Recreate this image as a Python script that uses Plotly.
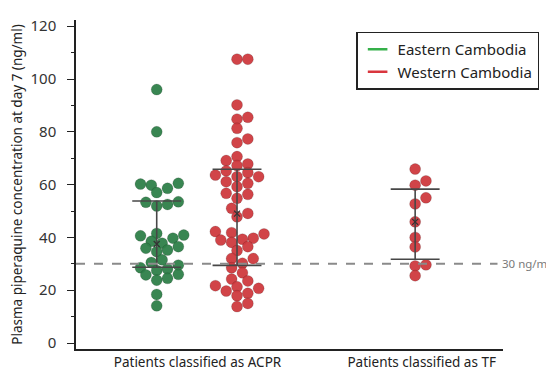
import plotly.graph_objects as go

# ---- data (ng/ml) ----
east_acpr = [96, 80, 60.5, 60.2, 59.8, 58.6, 57, 53.5, 53.3, 52.5, 51.9,
             41.5, 40.9, 40.6, 39.7, 38.5, 37.8, 36.5, 35.9, 35.2, 34.6,
             31.5, 30.5, 29.5, 28.5, 28, 27.5, 26, 25.8, 24.5, 23.8, 18.4, 14.1]
west_acpr = [107.5, 107.5, 90.2, 85.5, 84.8, 81.3, 77.3, 75.9, 70.6, 69.1,
             67.8, 67.2, 65.2, 64.5, 63.6, 63, 63, 61.1, 60.5, 59.2, 56.7,
             56.3, 54.8, 51, 49.1, 47.8, 42.2, 41.8, 41.3, 39.7, 39.3, 39,
             38.1, 36.5, 35, 32, 32, 30.2, 28.5, 26.6, 24.2, 23.5, 21.7,
             21.3, 20.7, 19.7, 18.8, 17.9, 15, 13.8]
west_tf = [65.9, 61.4, 59.8, 55, 52.7, 45.9, 40, 36.4, 29.6, 29.2, 25.5]

group_x = [0.99, 1.975, 4.16]
bar_upper = [53.8, 65.8, 58.3]
bar_median = [37.5, 49.0, 45.9]
bar_lower = [28.7, 29.4, 31.7]

category_labels = ["Patients classified as ACPR", "Patients classified as TF"]
category_pos = [1.49, 4.24]
threshold = 30
threshold_label = "30 ng/ml"
legend_names = ["Eastern Cambodia", "Western Cambodia"]

GREEN = "#2f8049"
RED = "#cf3a3f"
GREEN_LEG = "#35b04a"
RED_LEG = "#d9363e"

Y_RANGE = [-2.27, 122.35]
X_RANGE = [0, 5.2375]
PLOT_W = 419
PLOT_H = 329
ypx = PLOT_H / (Y_RANGE[1] - Y_RANGE[0])
xpx = PLOT_W / (X_RANGE[1] - X_RANGE[0])
DIA = 10.6


def swarm(values, tight=0.8):
    placed = []
    res = [0.0] * len(values)
    order = sorted(range(len(values)), key=lambda i: values[i])
    cands = [0.0]
    for k in range(1, 14):
        cands += [k * DIA / 2, -k * DIA / 2]
    for i in order:
        y = values[i] * ypx
        chosen = cands[-1]
        for c in cands:
            if all((c - px) ** 2 + (y - py) ** 2 >= (DIA * tight) ** 2 for px, py in placed):
                chosen = c
                break
        placed.append((chosen, y))
        res[i] = chosen / xpx
    return res


fig = go.Figure()

series = [(east_acpr, group_x[0], GREEN), (west_acpr, group_x[1], RED), (west_tf, group_x[2], RED)]
for vals, cx, col in series:
    offs = swarm(vals)
    fig.add_trace(go.Scatter(
        x=[cx + o for o in offs], y=vals, mode="markers", showlegend=False,
        marker=dict(size=11, color=col, opacity=0.95,
                    line=dict(width=0.6, color="rgba(0,0,0,0.25)")),
        hoverinfo="y"))

# error bars (median with range bars)
CAP = 0.3
for cx, up, md, lo in zip(group_x, bar_upper, bar_median, bar_lower):
    fig.add_trace(go.Scatter(
        x=[cx, cx, None, cx - CAP, cx + CAP, None, cx - CAP, cx + CAP],
        y=[lo, up, None, up, up, None, lo, lo],
        mode="lines", line=dict(color="#474747", width=1.6),
        showlegend=False, hoverinfo="skip"))
    fig.add_trace(go.Scatter(
        x=[cx], y=[md], mode="markers", showlegend=False, hoverinfo="skip",
        marker=dict(symbol="x-thin", size=6, line=dict(width=1.2, color="#333"))))

# threshold line
fig.add_trace(go.Scatter(
    x=[X_RANGE[0], 5.17], y=[threshold, threshold], mode="lines",
    line=dict(color="#8a8a8a", width=2, dash="dash"),
    showlegend=False, hoverinfo="skip"))
fig.add_annotation(x=X_RANGE[1], y=threshold, xref="x", yref="y",
                   text=threshold_label, showarrow=False, xanchor="left",
                   xshift=-3, font=dict(size=11.5, color="#7a7a7a"))

# legend entries
for name, col in zip(legend_names, [GREEN_LEG, RED_LEG]):
    fig.add_trace(go.Scatter(
        x=[None], y=[None], mode="markers", name=name,
        marker=dict(symbol="line-ew", size=14, line=dict(width=2.5, color=col))))

FONT = "Noto Sans"
# page body adds an 8px offset, so the figure is 8px smaller on each axis
fig.update_layout(
    width=546, height=364,
    margin=dict(l=68, r=51, t=12, b=23, autoexpand=False),
    paper_bgcolor="white", plot_bgcolor="white",
    font=dict(family=FONT, color="#222"),
    legend=dict(x=0.656, y=0.965, xanchor="left", yanchor="top",
                bgcolor="white", bordercolor="#222", borderwidth=1.5,
                font=dict(size=15, color="#222"), itemwidth=30,
                tracegroupgap=0),
    xaxis=dict(range=X_RANGE, showgrid=False, zeroline=False, automargin=False,
               showline=True, linecolor="#222", linewidth=1.5,
               tickmode="array", tickvals=category_pos, ticktext=category_labels,
               ticks="", tickfont=dict(size=13.5, color="#222")),
    yaxis=dict(range=Y_RANGE, showgrid=False, zeroline=False, automargin=False,
               showline=True, linecolor="#222", linewidth=1.5,
               tickmode="linear", tick0=0, dtick=20,
               ticks="outside", ticklen=7, tickcolor="#222", tickwidth=1,
               ticklabelstandoff=8,
               minor=dict(ticks="outside", ticklen=3, dtick=10, tickcolor="#222"),
               tickfont=dict(size=15, color="#333"),
               title=dict(text="Plasma piperaquine concentration at day 7 (ng/ml)",
                          font=dict(size=13.5, color="#222"), standoff=6)),
)

fig.write_html("out.html")
